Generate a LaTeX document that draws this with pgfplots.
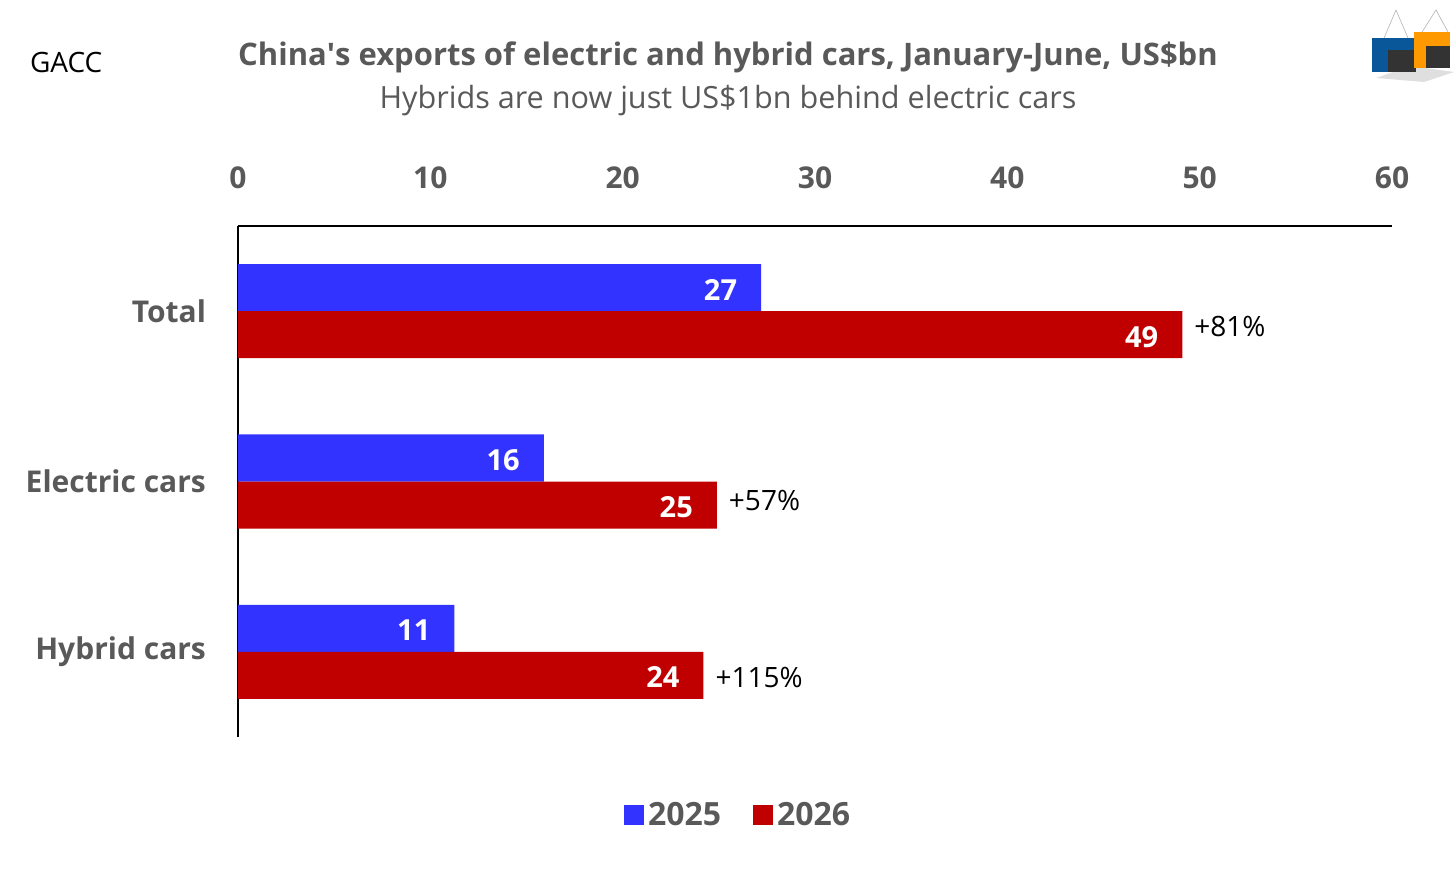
\documentclass[border=0pt]{standalone}
\usepackage{pgfplots}
\pgfplotsset{compat=1.18}
\usepackage{fontspec}
\setmainfont{Open Sans}
\definecolor{c25}{HTML}{3333FF}
\definecolor{c26}{HTML}{C00000}
\definecolor{txt}{HTML}{595959}
\begin{document}
\begin{tikzpicture}[x=1pt,y=1pt]
\useasboundingbox (0,0) rectangle (728,437);
% titles
\node[text=txt, font=\bfseries\fontsize{15.5}{18}\selectfont] at (364,408.5) {China\textquotesingle s exports of electric and hybrid cars, January-June, US\$bn};
\node[text=txt, font=\fontsize{15.3}{18}\selectfont] at (364,386.5) {Hybrids are now just US\$1bn behind electric cars};
\node[anchor=west, font=\fontsize{14}{16}\selectfont] at (11.5,405.5) {GACC};
% logo (simplified)
\draw[gray!60, line width=0.3pt] (692,418) -- (698,432) -- (704,418);
\draw[gray!60, line width=0.3pt] (711,421) -- (718,432) -- (724,421);
\fill[gray!25] (688,398) -- (712,396) -- (727,401) -- (705,404) -- cycle;
\fill[c25!60!blue!50!cyan!60!black] (686,418) rectangle (708,401);
\fill[black!80] (694,401) rectangle (708,412);
\fill[orange!80!yellow] (707,421) rectangle (725,403);
\fill[black!80] (713,403) rectangle (725,414);
\begin{axis}[
 at={(119pt,68.5pt)}, anchor=south west,
 scale only axis, width=577pt, height=255.5pt,
 xmin=0, xmax=60, ymin=-0.5, ymax=2.5,
 axis x line*=top, axis y line*=left,
 axis line style={line width=1pt, -},
 xtick={0,10,...,60}, ytick={0,1,2},
 yticklabels={Hybrid cars,Electric cars,Total},
 /pgf/number format/assume math mode=true,
 major tick length=0pt,
 tick style={draw=none},
 ticklabel style={font=\bfseries\fontsize{15}{18}\selectfont, text=txt},
 xticklabel style={yshift=15pt},
 yticklabel style={xshift=-12.5pt},
 xbar, bar width=23.5pt, bar shift=0pt,
 point meta=explicit symbolic,
 clip=false,
 legend style={at={(0.4342,-0.1526)}, anchor=center, draw=none, fill=none,
   legend columns=2, font=\bfseries\fontsize{16}{18}\selectfont, text=txt,
   /tikz/every even column/.append style={column sep=14pt}},
 legend image code/.code={\fill[#1] (-2pt,-5pt) rectangle (8pt,5pt);},
]
\addplot[fill=c25, draw=none, nodes near coords,
  nodes near coords style={anchor=east, text=white, font=\bfseries\fontsize{14.5}{16}\selectfont, xshift=-8.5pt, yshift=-1pt}]
  table[meta=l] {
x y l
27.2 2.138 27
15.9 1.138 16
11.25 0.138 11
};
\addlegendentry{2025}
\addplot[fill=c26, draw=none, nodes near coords,
  nodes near coords style={anchor=east, text=white, font=\bfseries\fontsize{14.5}{16}\selectfont, xshift=-8.5pt, yshift=-1pt}]
  table[meta=l] {
x y l
49.1 1.862 49
24.9 0.862 25
24.2 -0.138 24
};
\addlegendentry{2026}
\addplot[draw=none, fill=none, forget plot, nodes near coords,
  nodes near coords style={anchor=west, text=black, font=\fontsize{14}{16}\selectfont, xshift=2.5pt}]
  table[meta=l] {
x y l
49.1 1.91 +81\%
24.9 0.89 +57\%
24.2 -0.15 +115\%
};
\end{axis}
\end{tikzpicture}
\end{document}
